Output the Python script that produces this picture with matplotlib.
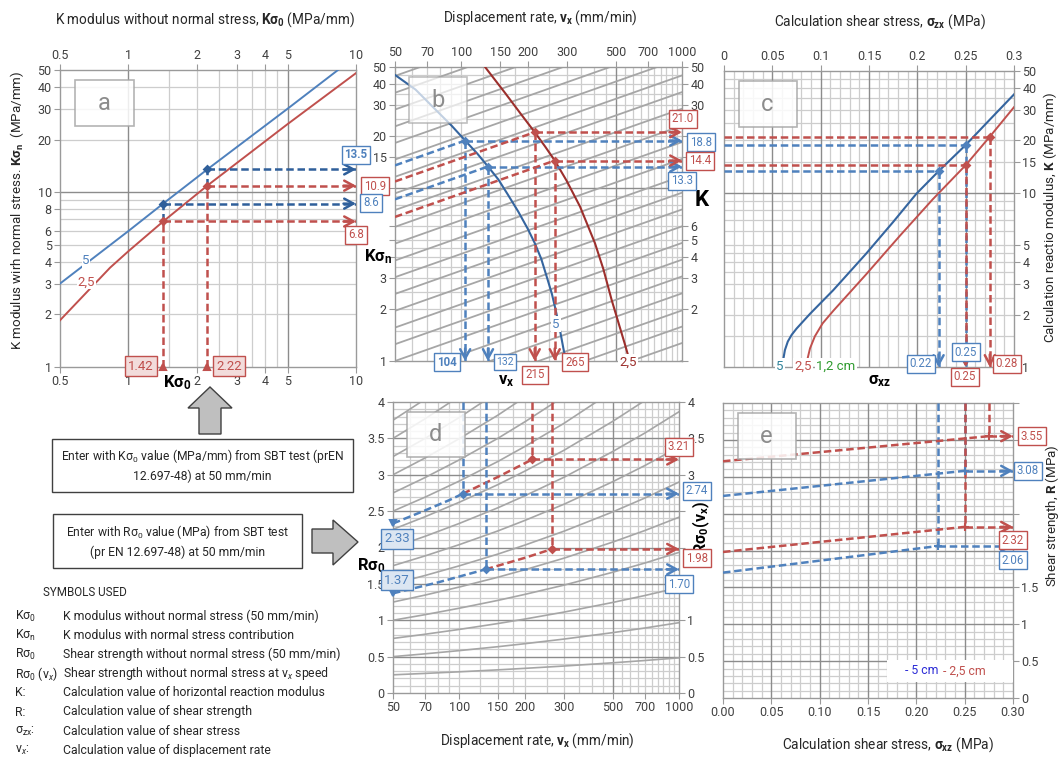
import matplotlib
matplotlib.use('Agg')
import matplotlib.pyplot as plt
from matplotlib.patches import Polygon, Rectangle
from matplotlib.ticker import NullLocator

plt.rcParams['font.family'] = ['Roboto', 'DejaVu Sans']
plt.rcParams['mathtext.fontset'] = 'custom'
plt.rcParams['mathtext.rm'] = 'Roboto'
plt.rcParams['mathtext.bf'] = 'Roboto:bold'
plt.rcParams['mathtext.it'] = 'Roboto:italic'
plt.rcParams['mathtext.sf'] = 'Roboto'

W, H = 1063, 760

# ===== data =====
# panel a: K with normal stress vs K without normal stress (5 cm / 2,5 cm)
a_k0_5 = [0.5, 1.0, 1.42, 2.22, 5.0, 10.0]
a_kn_5 = [3.0, 6.0, 8.6, 13.5, 30.0, 60.0]
a_k0_25 = [0.5, 0.83, 1.0, 1.42, 2.22, 5.0, 10.0]
a_kn_25 = [1.85, 3.7, 4.6, 6.8, 10.9, 24.5, 48.0]

# panel b: displacement rate curves + iso lines (value at 50 and at 1000 mm/min)
b_iso_left = [0.26, 0.33, 0.41, 0.51, 0.64, 0.8, 1.0, 1.25, 1.56, 1.95, 2.44, 3.05,
              3.81, 4.77, 5.96, 7.45, 9.31, 11.6, 14.6, 18.2, 22.7, 28.4, 35.5, 44.4]
b_iso_right = [1.0, 1.27, 1.58, 1.96, 2.46, 3.08, 3.85, 4.81, 6.0, 7.51, 9.39, 11.7,
               14.7, 18.4, 22.9, 28.7, 35.8, 44.7, 56.2, 70.1, 87.4, 109, 137, 171]
b_v_5 = [50, 62, 75, 90, 104, 118, 132, 147, 162, 181, 200, 215, 230, 245, 257, 268, 280, 290, 298]
b_k_5 = [45, 37, 29, 23.0, 18.8, 15.8, 13.3, 11.2, 9.2, 7.3, 5.8, 4.8, 3.9, 3.0, 2.45, 1.95,
         1.5, 1.18, 1.0]
b_v_25 = [128, 158, 185, 215, 240, 265, 300, 345, 403, 440, 480, 520, 551, 590]
b_k_25 = [50, 35.3, 27.0, 21.0, 17.3, 14.4, 11.0, 7.8, 4.8, 3.4, 2.25, 1.6, 1.25, 0.92]

# panel c: K vs calculation shear stress
c_s_5 = [0.0605, 0.0615, 0.063, 0.066, 0.070, 0.075, 0.089, 0.113, 0.147, 0.175, 0.199,
         0.222, 0.25, 0.275, 0.30]
c_k_5 = [1.0, 1.12, 1.25, 1.40, 1.53, 1.66, 2.02, 2.76, 4.47, 6.8, 9.87, 13.3, 18.8, 26.3, 36.7]
c_s_25 = [0.085, 0.0865, 0.089, 0.094, 0.102, 0.113, 0.147, 0.182, 0.216, 0.25, 0.275, 0.30]
c_k_25 = [1.0, 1.12, 1.28, 1.5, 1.78, 2.1, 3.4, 5.67, 9.18, 14.4, 21.0, 31.0]

# panel d: shear strength vs displacement rate (iso curves)
d_iso_r0 = [0.25, 0.5, 0.75, 1.0, 1.25, 1.5, 1.75, 2.0, 2.25, 2.5, 2.75, 3.0, 3.25, 3.5, 3.75]
d_v = [50, 70, 100, 150, 200, 300, 500, 700, 1000]
d_growth = [1.0, 1.077, 1.165, 1.273, 1.357, 1.483, 1.66, 1.787, 1.933]

# worked examples (upper / lower)
k0_in = [2.22, 1.42]
kn_5 = [13.5, 8.6]
kn_25 = [10.9, 6.8]
vx_5 = [104, 132]
K_5 = [18.8, 13.3]
vx_25 = [215, 265]
K_25 = [21.0, 14.4]
sig_5 = [0.25, 0.222]
sig_25 = [0.275, 0.25]
r0_in = [2.33, 1.37]
R_5 = [2.74, 1.70]
R_25 = [3.21, 1.98]
Rf_5 = [3.08, 2.06]
Rf_25 = [3.55, 2.32]
d_path_v5 = [[50, 70, 90, 104], [50, 80, 132]]
d_path_r5 = [[2.33, 2.51, 2.65, 2.74], [1.37, 1.52, 1.70]]
d_path_v25 = [[104, 150, 215], [132, 200, 265]]
d_path_r25 = [[2.74, 2.97, 3.21], [1.70, 1.86, 1.98]]

symbols = ['K$\\mathregular{σ_0}$', 'K$\\mathregular{σ_n}$', 'R$\\mathregular{σ_0}$',
           'R$\\mathregular{σ_0}$ (v$_x$)', 'K:', 'R:', '$\\mathregular{σ_{zx}}$:', 'v$_x$:']
meanings = ['K modulus without normal stress (50 mm/min)',
            'K modulus with normal stress contribution',
            'Shear strength without normal stress (50 mm/min)',
            'Shear strength without normal stress at v$_x$ speed',
            'Calculation value of horizontal reaction modulus',
            'Calculation value of shear strength',
            'Calculation value of shear stress',
            'Calculation value of displacement rate']

# ===== styles =====
BLUE = '#4f81bd'
DBLUE = '#2f5f9a'
CBLUE = '#35659f'
RED = '#c0504d'
DRED = '#9c2f2c'
ISO = '#a6a6a6'
GRID = '#cdcdcd'
GRIDD = '#8c8c8c'
SPINE = '#9a9a9a'
TXT = '#262626'
DASH = (0, (3.0, 1.5))
TFS = 9.8

fig = plt.figure(figsize=(W / 100, H / 100), dpi=100)


def axes_px(l, t, r, b):
    return fig.add_axes([l / W, 1 - b / H, (r - l) / W, (b - t) / H])


def style(ax):
    for s in ax.spines.values():
        s.set_color(SPINE)
        s.set_linewidth(1.0)
    ax.tick_params(which='both', length=4, width=0.8, color=SPINE, labelsize=9,
                   labelcolor='#404040', pad=2,
                   top=False, bottom=False, left=False, right=False,
                   labeltop=False, labelbottom=False, labelleft=False, labelright=False)
    ax.xaxis.set_minor_locator(NullLocator())
    ax.yaxis.set_minor_locator(NullLocator())


def grid(ax, xs=(), xmaj=(), ys=(), ymaj=()):
    for x in xs:
        ax.axvline(x, color=GRID, lw=0.9, zorder=0)
    for y in ys:
        ax.axhline(y, color=GRID, lw=0.9, zorder=0)
    for x in xmaj:
        ax.axvline(x, color=GRIDD, lw=1.0, zorder=0.5)
    for y in ymaj:
        ax.axhline(y, color=GRIDD, lw=1.0, zorder=0.5)


def dash(ax, x, y, c):
    ax.plot(x, y, color=c, lw=1.8, ls=DASH, zorder=5, dash_capstyle='butt')


def head(ax, x, y, c, dx, dy):
    ax.annotate('', xy=(x, y), xytext=(dx, dy), textcoords='offset points',
                arrowprops=dict(arrowstyle='->,head_length=0.55,head_width=0.3', color=c,
                                lw=1.8, shrinkA=0, shrinkB=0, mutation_scale=12),
                annotation_clip=False, zorder=6)


def dot(ax, x, y, c, m='D', ms=3.5):
    ax.plot([x], [y], marker=m, ms=ms, color=c, mew=1.5, zorder=7, clip_on=False)


def vbox(xp, yp, s, c, fill='white', bold=False, fs=8.3):
    fig.text(xp / W, 1 - yp / H, s, color=c, fontsize=fs, ha='center', va='center',
             fontweight='bold' if bold else 'normal',
             bbox=dict(boxstyle='square,pad=0.25', fc=fill, ec=c, lw=1), zorder=10)


def ftext(xp, yp, s, **kw):
    kw.setdefault('color', TXT)
    kw.setdefault('ha', 'center')
    kw.setdefault('va', 'center')
    fig.text(xp / W, 1 - yp / H, s, **kw)


def letter(ax, s, alpha=0.85):
    ax.add_patch(Rectangle((0.05, 0.81), 0.2, 0.155, transform=ax.transAxes, fc='white',
                           ec='#a6a6a6', lw=1.2, alpha=alpha, zorder=8))
    ax.text(0.15, 0.8875, s, transform=ax.transAxes, fontsize=17, color='#8c8c8c',
            ha='center', va='center', zorder=9)


def hide_labels(ax, ticks, left=(), right=()):
    for t, v in zip(ax.yaxis.get_major_ticks(), ticks):
        if v in left:
            t.label1.set_visible(False)
        if v in right:
            t.label2.set_visible(False)


v_grid = [60, 70, 80, 90, 100, 125, 150, 175, 200, 250, 300, 350, 400, 450, 550, 600,
          650, 700, 750, 800, 850, 900, 950]
k_grid = [1.5, 2, 2.5, 3, 3.5, 4, 4.5, 5, 6, 7, 8, 9, 15, 20, 25, 30, 35, 40, 45]
s_grid = [i / 100 for i in range(1, 30) if i % 5]
s_major = [0.05, 0.1, 0.15, 0.2, 0.25]
r_grid = [i / 10 for i in range(1, 40) if i % 5]
r_major = [0.5, 1, 1.5, 2, 2.5, 3, 3.5]
v_ticks = [50, 70, 100, 150, 200, 300, 500, 700, 1000]

# ===== panel a =====
ax = axes_px(60, 70, 356, 367)
style(ax)
ax.set_xscale('log')
ax.set_yscale('log')
ax.set_xlim(0.5, 10)
ax.set_ylim(1, 50)
grid(ax, xs=[1.5, 2, 2.5, 3, 3.5, 4, 4.5], xmaj=[1, 5],
     ys=[2, 3, 4, 5, 6, 7, 8, 9, 20, 30, 40], ymaj=[10])
ax.plot(a_k0_5, a_kn_5, color=BLUE, lw=1.4, zorder=3)
ax.plot(a_k0_25, a_kn_25, color=RED, lw=1.4, zorder=3)
ax.text(0.65, 4.05, '5', color=BLUE, fontsize=9.5, ha='center', va='center', zorder=4,
        bbox=dict(boxstyle='square,pad=0.05', fc='white', ec='none'))
ax.text(0.655, 3.07, '2,5', color=RED, fontsize=9.5, ha='center', va='center', zorder=4,
        bbox=dict(boxstyle='square,pad=0.05', fc='white', ec='none'))
for k0, k5, k25 in zip(k0_in, kn_5, kn_25):
    dash(ax, [k0, k0], [1, k25], RED)
    dash(ax, [k0, k0], [k25, k5], DBLUE)
    dash(ax, [k0, 10], [k5, k5], DBLUE)
    head(ax, 10, k5, DBLUE, -9, 0)
    dash(ax, [k0, 10], [k25, k25], RED)
    head(ax, 10, k25, RED, -9, 0)
    dot(ax, k0, k5, DBLUE)
    dot(ax, k0, k25, RED)
    dot(ax, k0, 1, RED, m='^', ms=5)
ax.set_xticks([0.5, 1, 2, 3, 4, 5, 10])
ax.set_xticklabels(['0.5', '1', '2', '3', '4', '5', '10'])
ax.set_yticks([1, 2, 3, 4, 5, 6, 8, 10, 20, 30, 40, 50])
ax.set_yticklabels(['1', '2', '3', '4', '5', '6', '8', '10', '20', '30', '40', '50'])
ax.tick_params(axis='x', top=True, bottom=True, labeltop=True, labelbottom=True)
ax.tick_params(axis='y', left=True, labelleft=True)
letter(ax, 'a')

# ===== panel b =====
ax = axes_px(395, 67, 682, 361)
style(ax)
ax.set_xscale('log')
ax.set_yscale('log')
ax.set_xlim(50, 1000)
ax.set_ylim(1, 50)
grid(ax, xs=v_grid, xmaj=[500], ys=k_grid, ymaj=[10])
for k0, k1 in zip(b_iso_left, b_iso_right):
    ax.plot([50, 1000], [k0, k1], color=ISO, lw=1.3, zorder=1)
ax.plot(b_v_5, b_k_5, color=CBLUE, lw=1.5, zorder=3)
ax.plot(b_v_25, b_k_25, color=DRED, lw=1.5, zorder=3)
for i in range(2):
    for k_in, v, k, c in [(kn_5[i], vx_5[i], K_5[i], BLUE), (kn_25[i], vx_25[i], K_25[i], RED)]:
        dash(ax, [50, v], [k_in, k], c)
        dash(ax, [v, 1000], [k, k], c)
        head(ax, 1000, k, c, -9, 0)
        dash(ax, [v, v], [k, 1], c)
        head(ax, v, 1, c, 0, 9)
        dot(ax, v, k, c)
ax.set_xticks(v_ticks)
ax.set_xticklabels([str(v) for v in v_ticks])
b_yt = [1, 2, 3, 4, 5, 6, 10, 15, 20, 30, 40, 50]
ax.set_yticks(b_yt)
ax.set_yticklabels([str(v) for v in b_yt])
ax.tick_params(axis='x', top=True, labeltop=True)
ax.tick_params(axis='y', left=True, right=True, labelleft=True, labelright=True)
hide_labels(ax, b_yt, left=(4, 5, 6, 10), right=(1, 10, 15, 20))
letter(ax, 'b', alpha=0.7)

# ===== panel c =====
ax = axes_px(724, 71, 1014, 367)
style(ax)
ax.set_yscale('log')
ax.set_xlim(0, 0.3)
ax.set_ylim(1, 50)
grid(ax, xs=s_grid, xmaj=s_major, ys=k_grid, ymaj=[10])
ax.plot(c_s_5, c_k_5, color=CBLUE, lw=1.5, zorder=3)
ax.plot(c_s_25, c_k_25, color=RED, lw=1.4, zorder=3)
for s, k, c in [(sig_5[0], K_5[0], BLUE), (sig_5[1], K_5[1], BLUE),
                (sig_25[0], K_25[0], RED), (sig_25[1], K_25[1], RED)]:
    dash(ax, [0, s], [k, k], c)
    dash(ax, [s, s], [k, 1], c)
    head(ax, s, 1, c, 0, 9)
    dot(ax, s, k, c)
c_xt = [0, 0.05, 0.1, 0.15, 0.2, 0.25, 0.3]
ax.set_xticks(c_xt)
ax.set_xticklabels(['0', '0.05', '0.1', '0.15', '0.2', '0.25', '0.3'])
c_yt = [1, 2, 3, 4, 5, 10, 15, 20, 30, 40, 50]
ax.set_yticks(c_yt)
ax.set_yticklabels([str(v) for v in c_yt])
ax.tick_params(axis='x', top=True, labeltop=True)
ax.tick_params(axis='y', right=True, labelright=True)
letter(ax, 'c')

# ===== panel d =====
ax = axes_px(393, 402, 679, 693)
style(ax)
ax.set_xscale('log')
ax.set_xlim(50, 1000)
ax.set_ylim(0, 4)
grid(ax, xs=v_grid, xmaj=[500], ys=r_grid, ymaj=r_major)
for r0 in d_iso_r0:
    ax.plot(d_v, [r0 * g for g in d_growth], color=ISO, lw=1.2, zorder=1)
for i in range(2):
    dash(ax, d_path_v5[i], d_path_r5[i], BLUE)
    dash(ax, d_path_v25[i], d_path_r25[i], RED)
    for v, r, c in [(vx_5[i], R_5[i], BLUE), (vx_25[i], R_25[i], RED)]:
        dash(ax, [v, v], [4, r], c)
        dash(ax, [v, 1000], [r, r], c)
        head(ax, 1000, r, c, -9, 0)
        dot(ax, v, r, c)
    dot(ax, 50, r0_in[i], BLUE, m='v', ms=5)
ax.set_xticks(v_ticks)
ax.set_xticklabels([str(v) for v in v_ticks])
d_yt = [0, 0.5, 1, 1.5, 2, 2.5, 3, 3.5, 4]
ax.set_yticks(d_yt)
ax.set_yticklabels(['0', '0.5', '1', '1.5', '2', '2.5', '3', '3.5', '4'])
ax.tick_params(axis='x', bottom=True, labelbottom=True)
ax.tick_params(axis='y', left=True, right=True, labelleft=True, labelright=True)
hide_labels(ax, d_yt, right=(1.5, 2, 2.5))
letter(ax, 'd')

# ===== panel e =====
ax = axes_px(723, 403, 1013, 698)
style(ax)
ax.set_xlim(0, 0.3)
ax.set_ylim(0, 4)
grid(ax, xs=s_grid, xmaj=s_major, ys=r_grid, ymaj=r_major)
for s, r0, r, c in [(sig_5[0], R_5[0], Rf_5[0], BLUE), (sig_5[1], R_5[1], Rf_5[1], BLUE),
                    (sig_25[0], R_25[0], Rf_25[0], RED), (sig_25[1], R_25[1], Rf_25[1], RED)]:
    dash(ax, [s, s], [4, r], c)
    dash(ax, [0, s], [r0, r], c)
    dash(ax, [s, 0.3], [r, r], c)
    head(ax, 0.3, r, c, -9, 0)
    dot(ax, s, r, c, m='+', ms=6)
ax.set_xticks(c_xt)
ax.set_xticklabels(['%.2f' % v for v in c_xt])
ax.set_yticks(d_yt)
ax.set_yticklabels(['0', '0.5', '1', '1.5', '', '', '', '', ''])
ax.tick_params(axis='x', bottom=True, labelbottom=True)
ax.tick_params(axis='y', right=True, labelright=True)
letter(ax, 'e')
fig.patches.append(Rectangle((887 / W, 1 - 682 / H), 126 / W, 22 / H, transform=fig.transFigure,
                             fc='white', ec='none', zorder=2))
ftext(922, 671, '- 5 cm', color='#2b2bd6', fontsize=8.8)
ftext(964, 671, '- 2,5 cm', color=RED, fontsize=8.8)

# ===== value boxes =====
vbox(356, 155, '13.5', BLUE, bold=True)
vbox(375, 186, '10.9', RED)
vbox(371, 203, '8.6', BLUE)
vbox(356, 235, '6.8', RED)
vbox(141, 366, '1.42', RED, fill='#f2dcdb', fs=9.5)
vbox(229, 366, '2.22', RED, fill='#f2dcdb', fs=9.5)
vbox(683, 119, '21.0', RED)
vbox(701, 142, '18.8', BLUE)
vbox(700, 161, '14.4', RED)
vbox(682, 181, '13.3', BLUE)
vbox(447, 362, '104', BLUE, bold=True)
vbox(505, 362, '132', BLUE, fs=7.5)
vbox(535, 375, '215', RED)
vbox(575, 362, '265', RED)
vbox(921, 364, '0.22', BLUE)
vbox(966, 352, '0.25', BLUE)
vbox(965, 377, '0.25', RED)
vbox(1007, 364, '0.28', RED)
vbox(679, 447, '3.21', RED)
vbox(697, 491, '2.74', BLUE)
vbox(697, 558, '1.98', RED)
vbox(679, 584, '1.70', BLUE)
vbox(397, 539, '2.33', BLUE, fill='#dce6f2', fs=9.5)
vbox(397, 580, '1.37', BLUE, fill='#dce6f2', fs=9.5)
vbox(1032, 436, '3.55', RED)
vbox(1028, 471, '3.08', BLUE)
vbox(1013, 540, '2.32', RED)
vbox(1013, 560, '2.06', BLUE)

# curve labels on b and c
for xp, yp, s, c in [(556, 324, '5', BLUE), (628, 362, '2,5', DRED),
                     (780, 366, '5', '#31849b'), (803, 366, '2,5', RED),
                     (836, 366, '1,2 cm', '#2e9a2e')]:
    fig.text(xp / W, 1 - yp / H, s, color=c, fontsize=9.5, ha='center', va='center', zorder=9,
             bbox=dict(boxstyle='square,pad=0.1', fc='white', ec='none'))

# ===== axis titles and big labels =====
ftext(205, 20, 'K modulus without normal stress, $\\mathbf{Kσ_0}$ (MPa/mm)', fontsize=TFS)
ftext(540, 18, 'Displacement rate, $\\mathbf{v_x}$ (mm/min)', fontsize=TFS)
ftext(880, 22, 'Calculation shear stress, $\\mathbf{σ_{zx}}$ (MPa)', fontsize=TFS)
ftext(537, 741, 'Displacement rate, $\\mathbf{v_x}$ (mm/min)', fontsize=TFS)
ftext(888, 745, 'Calculation shear stress, $\\mathbf{σ_{xz}}$ (MPa)', fontsize=TFS)
ftext(17, 210, 'K modulus wirh normal stress. $\\mathbf{Kσ_n}$  (MPa/mm)', fontsize=9.6, rotation=90)
ftext(1050, 218, 'Calculation reactio modulus, $\\mathbf{K}$ (MPa/mm)', fontsize=9.6, rotation=90)
ftext(1052, 516, 'Shear strength, $\\mathbf{R}$ (MPa)', fontsize=9.6, rotation=90)
ftext(177, 383, '$\\mathbf{Kσ_0}$', fontsize=12, color='black')
ftext(378, 257, '$\\mathbf{Kσ_n}$', fontsize=12, color='black')
ftext(702, 200, '$\\mathbf{K}$', fontsize=16, color='black')
ftext(506, 381, '$\\mathbf{v_x}$', fontsize=12, color='black')
ftext(880, 381, '$\\mathbf{σ_{xz}}$', fontsize=12, color='black')
ftext(371, 566, '$\\mathbf{Rσ_0}$', fontsize=12, color='black')
ftext(701, 527, '$\\mathbf{Rσ_0(v_x)}$', fontsize=11.5, color='black', rotation=90)


# ===== left side: entry boxes, arrows and symbol list =====
def fpoly(pts):
    fig.patches.append(Polygon([(x / W, 1 - y / H) for x, y in pts], closed=True,
                               transform=fig.transFigure, fc='#bfbfbf', ec='#404040', lw=1))


def fbox(l, t, r, b):
    fig.patches.append(Rectangle((l / W, 1 - b / H), (r - l) / W, (b - t) / H,
                                 transform=fig.transFigure, fc='white', ec='#404040', lw=1))


fpoly([(210, 387), (232, 408), (221, 408), (221, 434), (199, 434), (199, 408), (188, 408)])
fpoly([(312, 529), (333, 529), (333, 520), (358, 542), (333, 565), (333, 553), (312, 553)])
fbox(52, 439, 353, 492)
fbox(53, 514, 302, 568)
ftext(202, 465, 'Enter with K$\\mathregular{σ_0}$ value (MPa/mm) from SBT test (prEN\n'
      '12.697-48) at 50 mm/min', fontsize=8.7, linespacing=1.45)
ftext(178, 541, 'Enter with R$\\mathregular{σ_0}$ value (MPa) from SBT test\n'
      '(pr EN 12.697-48) at 50 mm/min', fontsize=8.7, linespacing=1.45)
ftext(43, 593, 'SYMBOLS USED', fontsize=8.4, ha='left')
for i, (sym, txt) in enumerate(zip(symbols, meanings)):
    yp = 616 + i * 19.2
    ftext(15, yp, sym, fontsize=8.8, ha='left')
    ftext(63, yp, txt, fontsize=8.8, ha='left')

fig.savefig('out.png', dpi=100, facecolor='white')
